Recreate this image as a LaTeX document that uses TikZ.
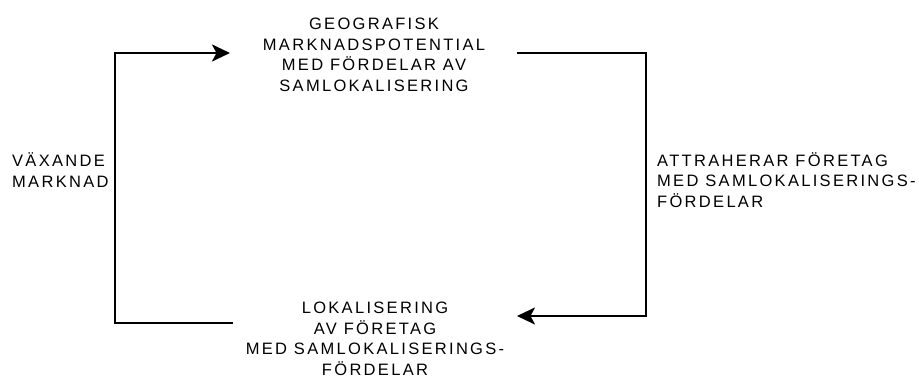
\documentclass[tikz,border=0pt]{standalone}
\usepackage{fontspec}
\setmainfont{Liberation Sans}[LetterSpace=14]
\usetikzlibrary{arrows.meta}
\begin{document}
\begin{tikzpicture}[x=1pt,y=-1pt,
  lbl/.style={inner sep=0pt, font=\fontsize{16.5}{20.5}\selectfont, text depth=0pt},
  flow/.style={line width=2.5pt, line join=miter},
  tip/.style={-{Stealth[length=18pt,width=17pt,inset=4.5pt]}}]
\useasboundingbox (0,0) rectangle (919,378);
% text nodes (anchored at the baseline of their last line)
\node[lbl, align=center, anchor=base] (top) at (374,91) {GEOGRAFISK\\MARKNADSPOTENTIAL\\MED FÖRDELAR AV\\SAMLOKALISERING};
\node[lbl, align=left, anchor=base west] (left) at (12,187) {VÄXANDE\\MARKNAD};
\node[lbl, align=left, anchor=base west] (right) at (657,207) {ATTRAHERAR FÖRETAG\\MED SAMLOKALISERINGS-\\FÖRDELAR};
\node[lbl, align=center, anchor=base] (bot) at (375,375) {LOKALISERING\\AV FÖRETAG\\MED SAMLOKALISERINGS-\\FÖRDELAR};
% connector points
\coordinate (bstart) at (233,323);
\coordinate (bl) at (115,323);
\coordinate (tl) at (115,53);
\coordinate (tin) at (230,53);
\coordinate (tout) at (517,53);
\coordinate (tr) at (646,53);
\coordinate (br) at (646,316);
\coordinate (bin) at (517,316);
\draw[flow, tip] (bstart) -- (bl) -- (tl) -- (tin);
\draw[flow, tip] (tout) -- (tr) -- (br) -- (bin);
\end{tikzpicture}
\end{document}
